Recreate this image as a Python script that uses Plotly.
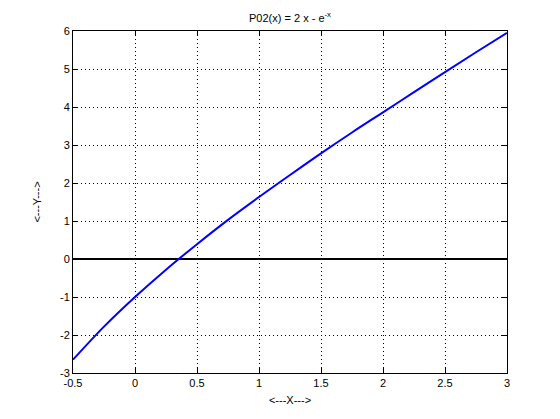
import plotly.graph_objects as go

x_vals = [-0.5, -0.25, 0, 0.25, 0.5, 0.75, 1, 1.25, 1.5, 1.75, 2, 2.25, 2.5, 2.75, 3]
y_vals = [-2.65, -1.78, -1.0, -0.28, 0.39, 1.03, 1.63, 2.21, 2.78, 3.33, 3.86, 4.39, 4.92, 5.44, 5.95]
zero_x = [-0.5, 3]
zero_y = [0, 0]
x_ticks = [-0.5, 0, 0.5, 1, 1.5, 2, 2.5, 3]
y_ticks = [-3, -2, -1, 0, 1, 2, 3, 4, 5, 6]

fig = go.Figure()
fig.add_trace(go.Scatter(x=zero_x, y=zero_y, mode="lines",
                         line=dict(color="black", width=2), showlegend=False))
fig.add_trace(go.Scatter(x=x_vals, y=y_vals, mode="lines", line_shape="spline",
                         line=dict(color="#0000ff", width=2), showlegend=False))

axis_common = dict(
    showline=True, linecolor="black", linewidth=1, mirror="allticks",
    ticks="inside", ticklen=5, tickcolor="black",
    showgrid=True, gridcolor="black", griddash="1px,3px", gridwidth=1,
    zeroline=False, tickfont=dict(size=11, color="black"), automargin=False,
)
fig.update_xaxes(range=[-0.5, 3], tickvals=x_ticks, ticktext=[str(v) for v in x_ticks],
                 title=dict(text="<---X--->", font=dict(size=11, color="black"), standoff=8),
                 **axis_common)
fig.update_yaxes(range=[-3, 6], tickvals=y_ticks, ticktext=[str(v) for v in y_ticks],
                 title=dict(text="<---Y--->", font=dict(size=11, color="black"), standoff=16),
                 **axis_common)

fig.update_layout(
    width=560, height=419,
    margin=dict(l=65, r=61, t=23, b=54),
    paper_bgcolor="white", plot_bgcolor="white",
    font=dict(family="Liberation Sans, Arial, sans-serif", size=11, color="black"),
    title=dict(text="P02(x) = 2 x - e<sup>-x</sup>", x=0.5, xref="paper", xanchor="center",
               y=0.985, yref="container", yanchor="top", pad=dict(t=0), automargin=False,
               font=dict(size=11, color="black")),
)

fig.write_html("out.html")
